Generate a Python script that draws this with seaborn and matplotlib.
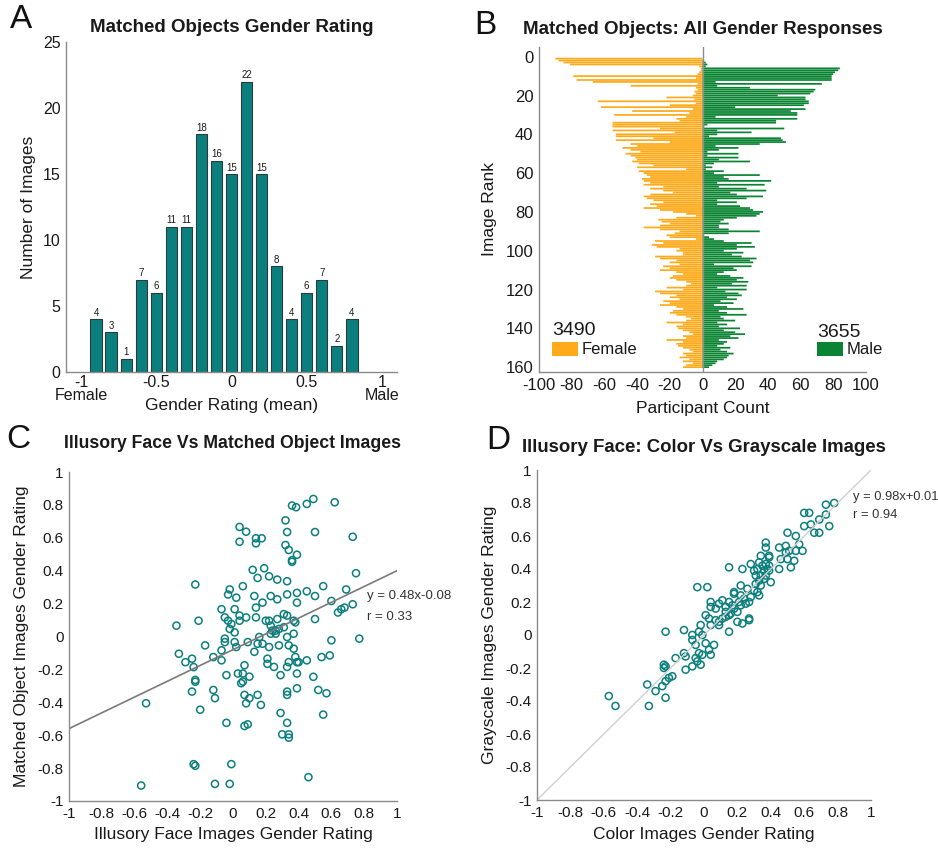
import numpy as np
import pandas as pd
import matplotlib
matplotlib.use("Agg")
import matplotlib.pyplot as plt
import seaborn as sns

sns.set_theme(style="white")
plt.rcParams['font.family'] = ['Liberation Sans', 'DejaVu Sans']
plt.rcParams['axes.unicode_minus'] = False

# ---------------- data ----------------
# Panel A: histogram of mean gender ratings
bin_centers = [-0.9, -0.8, -0.7, -0.6, -0.5, -0.4, -0.3, -0.2, -0.1, 0.0,
               0.1, 0.2, 0.3, 0.4, 0.5, 0.6, 0.7, 0.8]
bin_counts = [4, 3, 1, 7, 6, 11, 11, 18, 16, 15, 22, 15, 8, 4, 6, 7, 2, 4]

# Panel B: participant counts per image rank
female_counts = [90, 88, 85, 81, 2, 1, 1, 2, 3, 79,
                 4, 77, 67, 3, 44, 4, 3, 5, 4, 6,
                 22, 5, 64, 4, 20, 62, 6, 43, 8, 54,
                 10, 16, 14, 55, 55, 55, 26, 55, 17, 53,
                 53, 30, 53, 20, 44, 40, 49, 44, 38, 47,
                 44, 41, 40, 43, 39, 30, 40, 10, 39, 36,
                 34, 32, 37, 36, 32, 36, 24, 32, 24, 18,
                 32, 36, 34, 30, 24, 32, 28, 36, 26, 18,
                 10, 4, 16, 27, 25, 20, 26, 36, 26, 14,
                 17, 22, 20, 4, 29, 24, 31, 28, 14, 16,
                 12, 12, 29, 26, 16, 20, 14, 24, 20, 26,
                 16, 12, 18, 20, 16, 10, 7, 10, 22, 12,
                 29, 26, 16, 20, 14, 24, 20, 26, 16, 12,
                 18, 20, 16, 10, 7, 10, 22, 12, 16, 15,
                 12, 8, 6, 12, 10, 22, 12, 16, 15, 12,
                 8, 6, 12, 10, 14, 8, 12, 6, 10, 12]
male_counts = [0, 1, 2, 3, 2, 84, 83, 81, 80, 79,
               79, 79, 8, 73, 9, 29, 69, 68, 66, 46,
               63, 63, 65, 65, 62, 20, 63, 54, 58, 58,
               8, 58, 45, 45, 3, 1, 50, 9, 30, 9,
               4, 48, 49, 51, 35, 8, 22, 10, 3, 22,
               3, 22, 10, 29, 7, 2, 6, 2, 13, 7,
               35, 13, 16, 42, 9, 38, 10, 27, 39, 17,
               21, 37, 27, 9, 21, 9, 23, 29, 31, 37,
               35, 33, 21, 13, 11, 16, 10, 10, 16, 35,
               16, 1, 4, 7, 13, 30, 21, 32, 21, 13,
               25, 18, 24, 33, 29, 31, 7, 30, 19, 21,
               13, 9, 17, 25, 21, 28, 18, 27, 9, 27,
               14, 22, 24, 15, 21, 11, 19, 7, 15, 25,
               10, 15, 27, 11, 13, 20, 9, 15, 10, 23,
               13, 20, 26, 17, 22, 10, 15, 13, 9, 17,
               11, 15, 19, 16, 15, 13, 9, 8, 6, 4]
female_total = "3490"
male_total = "3655"

# Panel C: illusory face (x) vs matched object (y) ratings
c_face = [0.36, 0.385, 0.45, 0.49, 0.62, 0.32, 0.04, 0.08, 0.04, 0.33, 0.50, 0.14,
          0.175, 0.14, 0.73, 0.32, 0.34, 0.39, 0.36, 0.36, 0.12, 0.19, 0.15, 0.22,
          0.27, 0.33, 0.75, -0.23, 0.06, -0.02, -0.03, 0.02, 0.13, 0.23, 0.27, 0.33,
          0.39, 0.45, 0.50, 0.55, 0.69, 0.18, 0.39, 0.60, -0.07, 0.01, 0.14, 0.73,
          0.68, 0.66, 0.64, -0.345, -0.21, -0.05, -0.03, -0.01, 0.04, 0.04, 0.08, 0.14,
          0.20, 0.22, 0.27, 0.31, 0.33, 0.37, 0.38, 0.50, -0.02, 0.01, 0.23, 0.24,
          0.26, 0.28, 0.31, 0.37, 0.23, 0.26, 0.16, -0.17, -0.05, -0.05, 0.01, 0.09,
          0.15, 0.18, 0.22, 0.28, 0.33, 0.34, 0.37, 0.60, 0.77, 0.02, -0.07, 0.13,
          -0.33, -0.12, -0.25, -0.29, -0.07, -0.24, 0.07, 0.21, 0.21, 0.25, 0.34, 0.33,
          0.38, 0.39, 0.40, 0.45, 0.54, 0.59, 0.03, 0.06, 0.10, -0.04, 0.29, 0.39,
          0.49, -0.23, -0.23, 0.05, 0.06, -0.25, -0.12, -0.11, 0.07, 0.10, 0.15, 0.08,
          0.17, 0.33, 0.33, 0.39, 0.52, 0.57, -0.53, -0.20, 0.29, 0.55, -0.04, 0.07,
          0.09, 0.33, 0.30, 0.34, 0.34, -0.24, -0.23, -0.01, 0.46, -0.56, -0.11, -0.02]
c_object = [0.796, 0.786, 0.806, 0.836, 0.816, 0.706, 0.666, 0.637, 0.576, 0.635, 0.635, 0.597,
            0.597, 0.566, 0.606, 0.556, 0.526, 0.497, 0.464, 0.454, 0.405, 0.415, 0.356, 0.366,
            0.346, 0.336, 0.385, 0.316, 0.306, 0.286, 0.255, 0.236, 0.246, 0.246, 0.226, 0.256,
            0.265, 0.275, 0.246, 0.306, 0.286, 0.206, 0.206, 0.216, 0.166, 0.166, 0.176, 0.196,
            0.176, 0.166, 0.146, 0.066, 0.096, 0.116, 0.096, 0.076, 0.127, 0.096, 0.116, 0.116,
            0.096, 0.096, 0.106, 0.136, 0.127, 0.096, 0.086, 0.106, 0.046, 0.025, 0.066, 0.036,
            0.036, 0.046, 0.056, 0.017, 0.017, 0.017, -0.003, -0.054, -0.013, -0.034, -0.034, -0.034,
            -0.044, -0.044, -0.064, -0.054, -0.003, -0.054, -0.074, -0.023, -0.013, -0.064, -0.084, -0.093,
            -0.105, -0.125, -0.135, -0.156, -0.145, -0.186, -0.175, -0.135, -0.166, -0.185, -0.156, -0.185,
            -0.125, -0.156, -0.156, -0.145, -0.125, -0.115, -0.225, -0.225, -0.244, -0.235, -0.235, -0.225,
            -0.245, -0.264, -0.275, -0.284, -0.274, -0.335, -0.325, -0.375, -0.355, -0.375, -0.355, -0.406,
            -0.416, -0.335, -0.355, -0.315, -0.325, -0.345, -0.406, -0.445, -0.465, -0.475, -0.525, -0.544,
            -0.534, -0.525, -0.595, -0.595, -0.615, -0.776, -0.786, -0.776, -0.855, -0.906, -0.896, -0.896]
c_slope, c_intercept = 0.48, -0.08

# Panel D: color (x) vs grayscale (y) ratings
d_color = [0.78, 0.73, 0.60, 0.63, 0.73, 0.69, 0.64, 0.60, 0.75, 0.66, 0.69, 0.50,
           0.55, 0.37, 0.37, 0.45, 0.49, 0.57, 0.51, 0.59, 0.55, 0.49, 0.34, 0.39,
           0.39, 0.46, 0.50, 0.54, 0.52, 0.45, 0.15, 0.23, 0.28, 0.33, 0.30, 0.32,
           0.35, 0.37, 0.39, 0.38, 0.36, 0.39, 0.31, 0.34, 0.37, 0.36, 0.40, 0.33,
           0.31, 0.34, -0.04, 0.02, 0.22, 0.26, 0.30, 0.32, 0.33, 0.18, 0.18, 0.28,
           0.22, 0.24, 0.27, 0.25, 0.21, 0.22, 0.04, 0.11, 0.15, 0.09, 0.04, 0.07,
           0.13, 0.17, 0.18, 0.13, 0.16, 0.20, 0.13, 0.15, 0.11, 0.07, 0.01, 0.03,
           0.09, 0.20, 0.23, 0.27, 0.27, 0.04, 0.09, 0.15, -0.02, -0.12, -0.23, -0.07,
           -0.03, -0.01, -0.07, -0.05, 0.01, 0.06, 0.03, -0.12, -0.03, -0.01, 0.04, -0.17,
           -0.11, -0.05, -0.04, -0.07, -0.02, -0.11, -0.24, -0.23, -0.24, -0.19, -0.21, -0.23,
           -0.25, -0.34, -0.29, -0.23, -0.33, -0.57, -0.53]
d_gray = [0.80, 0.79, 0.74, 0.74, 0.73, 0.70, 0.67, 0.66, 0.66, 0.62, 0.62, 0.62,
          0.60, 0.56, 0.53, 0.53, 0.54, 0.55, 0.51, 0.51, 0.51, 0.50, 0.48, 0.48,
          0.47, 0.46, 0.46, 0.45, 0.41, 0.40, 0.41, 0.40, 0.43, 0.44, 0.39, 0.40,
          0.42, 0.43, 0.42, 0.40, 0.39, 0.39, 0.36, 0.36, 0.36, 0.34, 0.32, 0.33,
          0.31, 0.30, 0.29, 0.29, 0.30, 0.28, 0.27, 0.26, 0.24, 0.26, 0.25, 0.23,
          0.24, 0.22, 0.20, 0.19, 0.20, 0.18, 0.20, 0.21, 0.20, 0.19, 0.17, 0.16,
          0.17, 0.18, 0.16, 0.14, 0.13, 0.14, 0.11, 0.12, 0.10, 0.09, 0.12, 0.10,
          0.08, 0.08, 0.07, 0.10, 0.09, 0.06, 0.06, 0.02, 0.06, 0.03, 0.02, 0.00,
          0.02, 0.00, -0.03, -0.06, -0.05, -0.06, -0.09, -0.11, -0.11, -0.12, -0.12, -0.14,
          -0.13, -0.14, -0.16, -0.19, -0.18, -0.21, -0.18, -0.19, -0.20, -0.25, -0.26, -0.28,
          -0.31, -0.30, -0.34, -0.38, -0.43, -0.37, -0.43]
d_slope, d_intercept = 0.98, 0.01

# ---------------- style ----------------
TEAL = '#0B7F7D'
ORANGE = '#FFAA1A'
GREEN = '#0A8432'
SPINE = '#8a8a8a'
TXT = '#1a1a1a'
W, H = 938, 848

fig = plt.figure(figsize=(W / 100, H / 100), dpi=100)


def box(l, t, r, b):
    return [l / W, 1 - b / H, (r - l) / W, (b - t) / H]


def style_axes(ax, lsize=11):
    for s in ['top', 'right']:
        ax.spines[s].set_visible(False)
    for s in ['left', 'bottom']:
        ax.spines[s].set_color(SPINE)
        ax.spines[s].set_linewidth(1.0)
    ax.tick_params(direction='in', length=3, width=0.8, color=SPINE,
                   labelsize=lsize, labelcolor=TXT, pad=4)


# ---------------- Panel A ----------------
axA = fig.add_axes(box(66, 42, 397, 372))
sns.barplot(x=bin_centers, y=bin_counts, native_scale=True, width=0.75,
            color=TEAL, saturation=1, edgecolor='#2b3b3b', linewidth=0.8,
            errorbar=None, ax=axA)
axA.bar_label(axA.containers[0], fontsize=7, padding=1, color=TXT)
axA.set_xlim(-1.1, 1.1)
axA.set_ylim(0, 25)
axA.set_xticks([-1, -0.5, 0, 0.5, 1])
axA.set_xticklabels(['-1', '-0.5', '0', '0.5', '1'])
axA.set_yticks([0, 5, 10, 15, 20, 25])
style_axes(axA, 11.5)
axA.tick_params(axis='x', pad=2)
axA.text(-1, -0.05, 'Female', transform=axA.get_xaxis_transform(), fontsize=11.5,
         color=TXT, ha='center', va='top')
axA.text(1, -0.05, 'Male', transform=axA.get_xaxis_transform(), fontsize=11.5,
         color=TXT, ha='center', va='top')
axA.set_xlabel('Gender Rating (mean)', fontsize=12.5, color=TXT, labelpad=6)
axA.set_ylabel('Number of Images', fontsize=12.5, color=TXT, labelpad=5)
axA.set_title('Matched Objects Gender Rating', fontsize=13.5, fontweight='bold',
              color=TXT, pad=7)

# ---------------- Panel B ----------------
axB = fig.add_axes(box(539, 47, 866, 372))
ranks = np.arange(1, len(female_counts) + 1)
dfB = pd.DataFrame({'rank': ranks,
                    'female': -np.array(female_counts, dtype=float),
                    'male': np.array(male_counts, dtype=float)})
sns.barplot(data=dfB, x='female', y='rank', orient='h', native_scale=True,
            width=0.9, color=ORANGE, saturation=1, errorbar=None, ax=axB)
n_f = len(axB.patches)
sns.barplot(data=dfB, x='male', y='rank', orient='h', native_scale=True,
            width=0.9, color=GREEN, saturation=1, errorbar=None, ax=axB)
for i, p in enumerate(axB.patches):
    col = ORANGE if i < n_f else GREEN
    p.set_facecolor(col)
    p.set_edgecolor('none')
    p.set_linewidth(0)
    p.set_snap(False)
axB.axvline(0, color='#8c8c8c', lw=1.0, zorder=5)
axB.set_xlim(-100, 100)
axB.set_ylim(162.5, -5)
axB.set_xticks(np.arange(-100, 101, 20))
axB.set_yticks(np.arange(0, 161, 20))
style_axes(axB, 12)
axB.set_xlabel('Participant Count', fontsize=12.5, color=TXT, labelpad=6)
axB.set_ylabel('Image Rank', fontsize=12.5, color=TXT, labelpad=6)
axB.set_title('Matched Objects: All Gender Responses', fontsize=13.5,
              fontweight='bold', color=TXT, pad=9)
# legend-like annotations
axB.text(-92, 141, female_total, fontsize=14, color=TXT, va='center', ha='left')
axB.add_patch(plt.Rectangle((-92, 147), 16, 7, color=ORANGE, lw=0))
axB.text(-74, 150.7, 'Female', fontsize=12, color=TXT, va='center', ha='left')
axB.text(70, 142, male_total, fontsize=14, color=TXT, va='center', ha='left')
axB.add_patch(plt.Rectangle((70, 147), 16, 7, color=GREEN, lw=0))
axB.text(88, 150.7, 'Male', fontsize=12, color=TXT, va='center', ha='left')

ticks11 = np.round(np.arange(-1, 1.01, 0.2), 1)
tick_lbls = ['-1' if t == -1 else '1' if t == 1 else '0' if t == 0 else f'{t:g}'
             for t in ticks11]

# ---------------- Panel C ----------------
axC = fig.add_axes(box(69, 472, 397, 801))
line_x = np.array([-1.0, 1.0])
sns.lineplot(x=line_x, y=c_slope * line_x + c_intercept, color='#7a7a7a',
             lw=1.2, ax=axC)
sns.scatterplot(x=c_face, y=c_object, s=26, color=TEAL, linewidth=1.1, ax=axC)
ptsC = axC.collections[-1]
ptsC.set_facecolor('none')
ptsC.set_edgecolor(TEAL)
axC.set_xlim(-1, 1)
axC.set_ylim(-1, 1)
axC.set_xticks(ticks11)
axC.set_xticklabels(tick_lbls)
axC.set_yticks(ticks11)
axC.set_yticklabels(tick_lbls)
style_axes(axC, 11)
axC.set_xlabel('Illusory Face Images Gender Rating', fontsize=12.5, color=TXT, labelpad=5)
axC.set_ylabel('Matched Object Images Gender Rating', fontsize=12.5, color=TXT, labelpad=6)
axC.set_title('Illusory Face Vs Matched Object Images', fontsize=12.7,
              fontweight='bold', color=TXT, pad=17)
axC.text(0.82, 0.245, f'y = {c_slope:.2f}x{c_intercept:+.2f}', fontsize=9.5,
         color='#333333', va='center', ha='left', clip_on=False)
axC.text(0.82, 0.12, 'r = 0.33', fontsize=9.5, color='#333333', va='center',
         ha='left', clip_on=False)

# ---------------- Panel D ----------------
axD = fig.add_axes(box(537, 470, 871, 800))
sns.lineplot(x=line_x, y=line_x, color='#cfcfcf', lw=1.0, ax=axD)
sns.scatterplot(x=d_color, y=d_gray, s=26, color=TEAL, linewidth=1.1, ax=axD)
ptsD = axD.collections[-1]
ptsD.set_facecolor('none')
ptsD.set_edgecolor(TEAL)
axD.set_xlim(-1, 1)
axD.set_ylim(-1, 1)
axD.set_xticks(ticks11)
axD.set_xticklabels(tick_lbls)
axD.set_yticks(ticks11)
axD.set_yticklabels(tick_lbls)
style_axes(axD, 11)
axD.set_xlabel('Color Images Gender Rating', fontsize=12.5, color=TXT, labelpad=5)
axD.set_ylabel('Grayscale Images Gender Rating', fontsize=12.5, color=TXT, labelpad=6)
axD.set_title('Illusory Face: Color Vs Grayscale Images', fontsize=13.4,
              fontweight='bold', color=TXT, pad=13)
axD.text(0.89, 0.835, f'y = {d_slope:.2f}x{d_intercept:+.2f}', fontsize=9.3,
         color='#333333', va='center', ha='left', clip_on=False)
axD.text(0.89, 0.73, 'r = 0.94', fontsize=9.3, color='#333333', va='center',
         ha='left', clip_on=False)

# ---------------- panel letters ----------------
for letter, (px, py) in zip('ABCD', [(10, 20), (474, 25), (6, 440), (486, 441)]):
    fig.text(px / W, 1 - py / H, letter, fontsize=24, color='#111111',
             ha='left', va='center')

fig.savefig('out.png', dpi=100)
